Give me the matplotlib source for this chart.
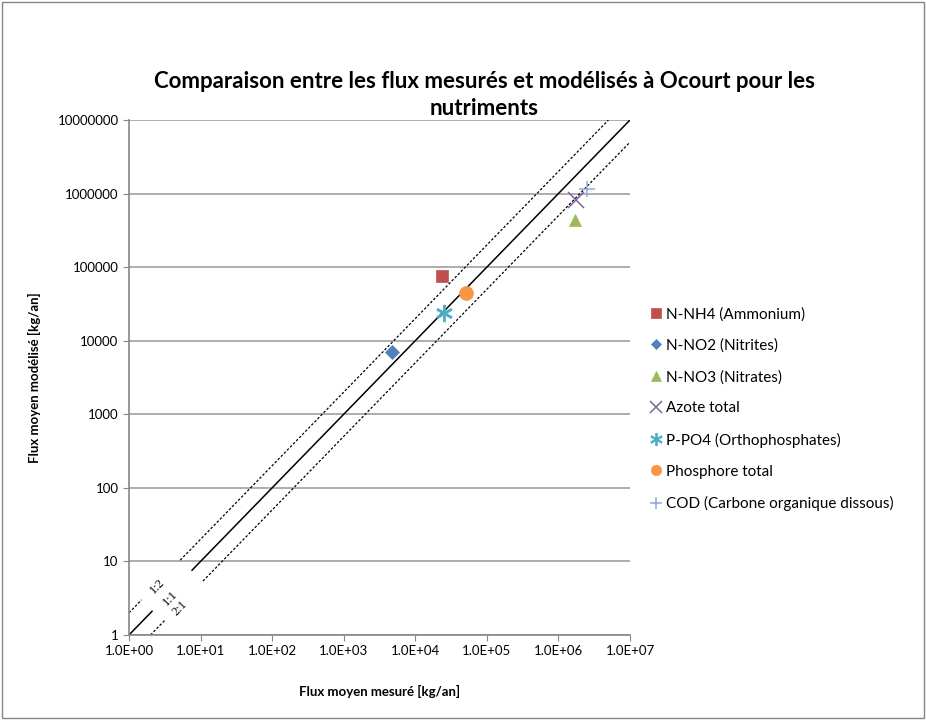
import matplotlib.pyplot as plt
from matplotlib.patches import Rectangle

# measured vs modelled fluxes [kg/an]
series_names = ["N-NH4 (Ammonium)", "N-NO2 (Nitrites)", "N-NO3 (Nitrates)", "Azote total",
                "P-PO4 (Orthophosphates)", "Phosphore total", "COD (Carbone organique dissous)"]
flux_mesure = [2.4e4, 4.7e3, 1.7e6, 1.75e6, 2.5e4, 5.2e4, 2.5e6]
flux_modele = [7.5e4, 7.0e3, 4.4e5, 8.1e5, 2.4e4, 4.4e4, 1.15e6]
markers = ["s", "D", "^", "x", "$\u2217$", "o", "+"]
colors = ["#C0504D", "#4F81BD", "#9BBB59", "#8064A2", "#4BACC6", "#F79646", "#8EA9DB"]
sizes = [9, 7, 9, 11, 12, 10, 11]

# reference lines y = ratio * x, drawn in two pieces around the labels
ref_ratios = [2, 1, 0.5]
ref_labels = ["1:2", "1:1", "2:1"]
ref_styles = [(0, (2, 1.5)), "-", (0, (2, 1.5))]
ref_low = [(1, 1.5), (1, 2.1), (2, 3.2)]
ref_high = [(5.2, 5e6), (7.6, 1e7), (10.8, 1e7)]
ref_label_pos = [(2.45, 4.6), (3.75, 3.2), (5.2, 2.35)]

x_ticks = [1e0, 1e1, 1e2, 1e3, 1e4, 1e5, 1e6, 1e7]
x_ticklabels = ["1.0E+00", "1.0E+01", "1.0E+02", "1.0E+03", "1.0E+04", "1.0E+05", "1.0E+06", "1.0E+07"]
y_ticks = [1, 10, 100, 1000, 10000, 100000, 1000000, 10000000]

plt.rcParams['font.family'] = ['Lato', 'DejaVu Sans']

fig = plt.figure(figsize=(9.26, 7.2), dpi=100)
ax = fig.add_axes([0.1393, 0.1181, 0.5410, 0.7152])
ax.set_xscale("log")
ax.set_yscale("log")
ax.set_xlim(1, 1e7)
ax.set_ylim(1, 1e7)

for r, ls, lo, hi in zip(ref_ratios, ref_styles, ref_low, ref_high):
    for seg in (lo, hi):
        ax.plot(seg, [r * seg[0], r * seg[1]], color="black", lw=1.1 if ls == "-" else 0.9,
                linestyle=ls, zorder=2)
for lab, (tx, ty) in zip(ref_labels, ref_label_pos):
    ax.text(tx, ty, lab, rotation=46, ha="center", va="center", fontsize=9,
            family=["Liberation Serif", "DejaVu Serif"])

for name, xm, ym, mk, c, s in zip(series_names, flux_mesure, flux_modele, markers, colors, sizes):
    ax.plot([xm], [ym], linestyle="none", marker=mk, color=c, markersize=s,
            markeredgewidth=1.1 if mk in ("x", "+") else 0.5, label=name, zorder=3)

ax.set_xticks(x_ticks)
ax.set_xticklabels(x_ticklabels)
ax.set_yticks(y_ticks)
ax.set_yticklabels([str(v) for v in y_ticks])
ax.minorticks_off()
ax.tick_params(labelsize=9.5, length=4, color="#868686", direction="out")
ax.grid(axis="y", color="#A0A0A0", linewidth=1.2)
ax.set_axisbelow(True)
for side in ("top", "right"):
    ax.spines[side].set_visible(False)
for side in ("left", "bottom"):
    ax.spines[side].set_color("#868686")
    ax.spines[side].set_linewidth(1.2)

ax.set_xlabel("Flux moyen mesuré [kg/an]", fontsize=9.5, fontweight="bold", labelpad=20)
ax.set_ylabel("Flux moyen modélisé [kg/an]", fontsize=9.5, fontweight="bold", labelpad=12)
fig.text(0.523, 0.868, "Comparaison entre les flux mesurés et modélisés à Ocourt pour les\nnutriments",
         ha="center", va="center", fontsize=16, fontweight="bold", linespacing=1.35)

ax.legend(loc="center left", bbox_to_anchor=(0.694, 0.432), bbox_transform=fig.transFigure,
          frameon=False, fontsize=11, handletextpad=0.15, handlelength=1.0, labelspacing=1.12,
          borderaxespad=0, markerscale=0.75)

fig.patches.append(Rectangle((0.002, 0.003), 0.996, 0.994, transform=fig.transFigure,
                             fill=False, edgecolor="#868686", linewidth=1))

fig.savefig("out.png", dpi=100)
